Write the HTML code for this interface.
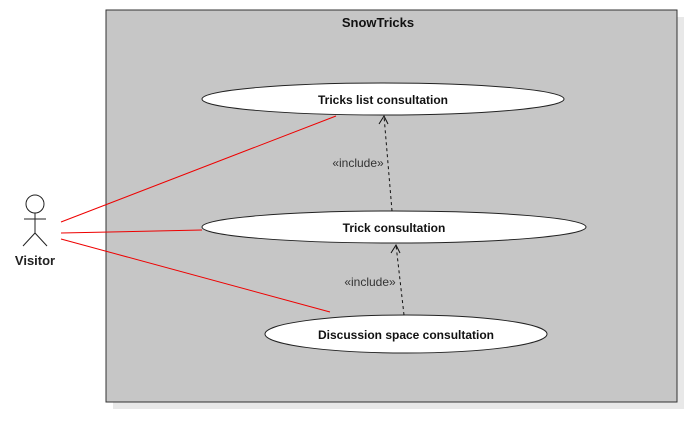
<!DOCTYPE html>
<html><head><style>body{margin:0;background:#fff}</style></head><body>
<svg width="690" height="442" xmlns="http://www.w3.org/2000/svg" font-family="Liberation Sans, sans-serif">
<rect x="113" y="17" width="571" height="392" fill="#e8e8e8"/>
<rect x="106" y="10" width="571" height="392" fill="#c6c6c6" stroke="#333" stroke-width="1"/>
<text x="378" y="27" font-size="13" font-weight="bold" text-anchor="middle" fill="#111">SnowTricks</text>
<g stroke="#e00" stroke-width="1" fill="none">
<line x1="61" y1="222" x2="336" y2="116"/>
<line x1="61" y1="233" x2="202" y2="230"/>
<line x1="61" y1="239" x2="330" y2="312"/>
</g>
<g fill="#fff" stroke="#222" stroke-width="1">
<ellipse cx="383" cy="99" rx="181" ry="16"/>
<ellipse cx="394" cy="227" rx="192" ry="16"/>
<ellipse cx="406" cy="334" rx="141" ry="19"/>
</g>
<g font-size="12" font-weight="bold" text-anchor="middle" fill="#111">
<text x="383" y="104">Tricks list consultation</text>
<text x="394" y="232">Trick consultation</text>
<text x="406" y="339">Discussion space consultation</text>
</g>
<g stroke="#111" stroke-width="1" fill="none">
<line x1="392" y1="211" x2="384" y2="116" stroke-dasharray="3,3"/>
<polyline points="379,124 384,116 388,124"/>
<line x1="404" y1="315" x2="396" y2="245" stroke-dasharray="3,3"/>
<polyline points="391,253 396,245 400,253"/>
</g>
<g font-size="12" fill="#333" text-anchor="middle">
<text x="358" y="167">«include»</text>
<text x="370" y="286">«include»</text>
</g>
<g stroke="#222" stroke-width="1" fill="#fff">
<circle cx="35" cy="204" r="9"/>
<line x1="35" y1="213" x2="35" y2="233"/>
<line x1="24" y1="219" x2="46" y2="219"/>
<line x1="35" y1="233" x2="23" y2="246"/>
<line x1="35" y1="233" x2="47" y2="246"/>
</g>
<text x="35" y="265" font-size="13" font-weight="bold" text-anchor="middle" fill="#222">Visitor</text>
</svg>
</body></html>
